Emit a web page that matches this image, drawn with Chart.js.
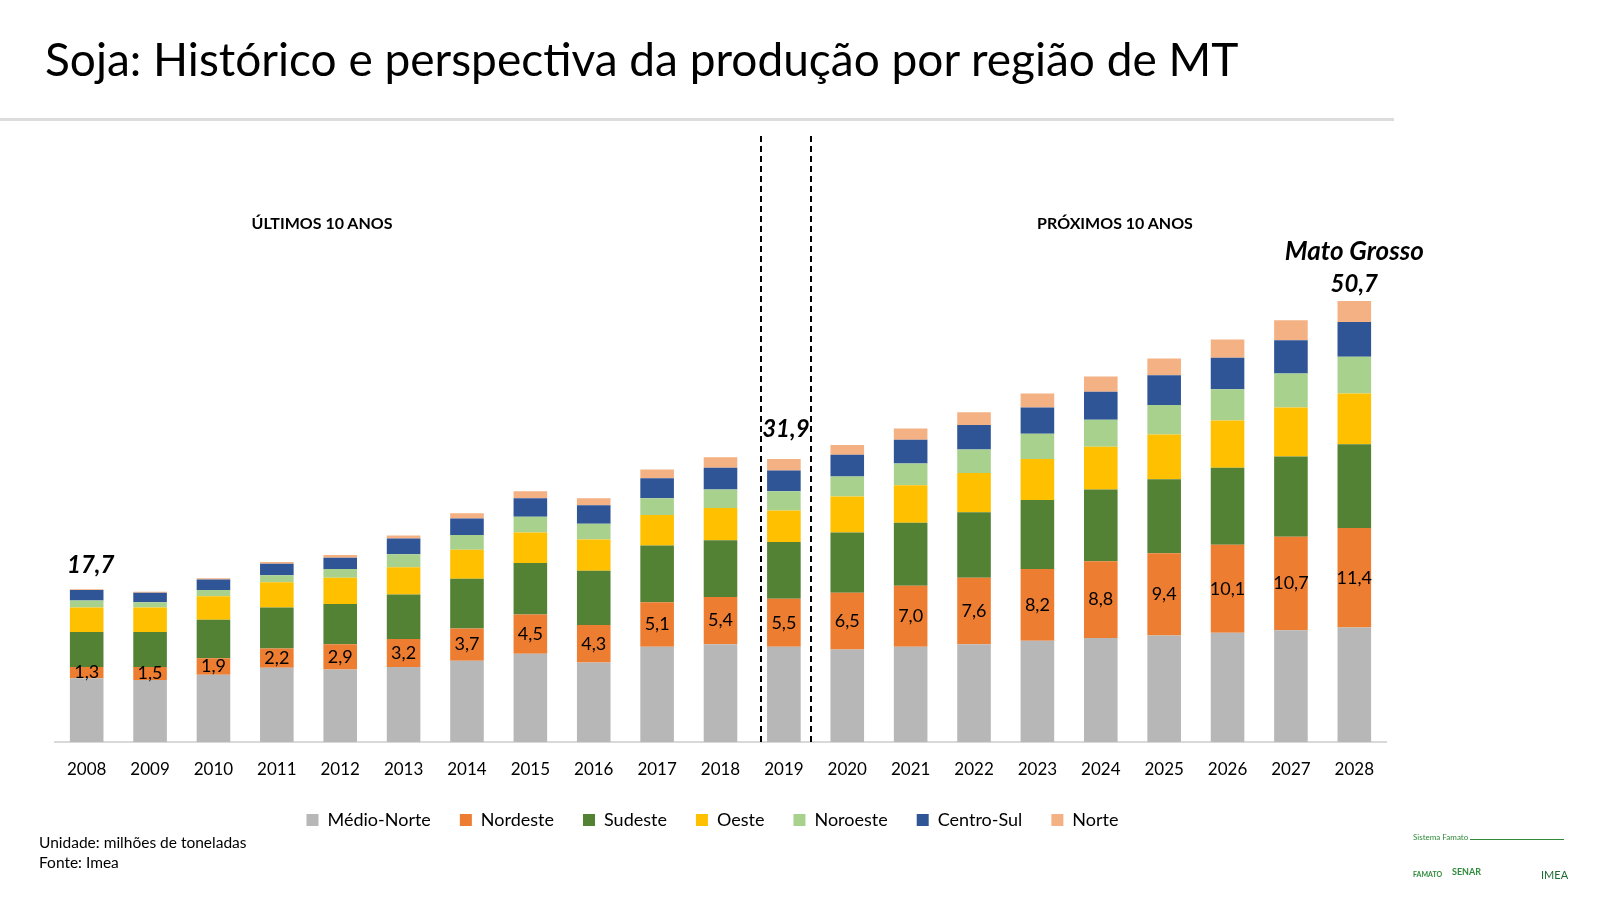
<!DOCTYPE html>
<html>
<head>
<meta charset="utf-8">
<script src="https://cdn.jsdelivr.net/npm/chart.js@4.4.1/dist/chart.umd.min.js"></script>
<style>
  html, body { margin: 0; padding: 0; background: #fff; }
  body { width: 1600px; height: 900px; position: relative; overflow: hidden; font-family: Lato, 'Open Sans', sans-serif; }
  #chart { position: absolute; left: 0; top: 0; }
  .txt { position: absolute; white-space: nowrap; color: #000; }
  #title { left: 45px; top: 31px; font-size: 46px; line-height: 56px; }
  #rule { position: absolute; left: 0; top: 118px; width: 1394px; height: 3px; background: #dcdcdc; }
  .section { font-size: 16px; font-weight: bold; transform: translate(-50%, -50%); }
  .foot { left: 39px; font-size: 15.5px; }
  .logo { position: absolute; color: #2f8a3a; font-size: 8px; }
</style>
</head>
<body>
<canvas id="chart" width="1600" height="900"></canvas>
<div id="title" class="txt">Soja: Histórico e perspectiva da produção por região de MT</div>
<div id="rule"></div>
<div class="txt section" style="left:322px; top:222px;">ÚLTIMOS 10 ANOS</div>
<div class="txt section" style="left:1115px; top:222px;">PRÓXIMOS 10 ANOS</div>
<div class="txt foot" style="top:833px;">Unidade: milhões de toneladas</div>
<div class="txt foot" style="top:853px;">Fonte: Imea</div>
<div class="logo" style="left:1413px; top:832px;">Sistema Famato</div>
<div style="position:absolute; left:1470px; top:839px; width:94px; height:1px; background:#2f8a3a;"></div>
<div class="logo" style="left:1413px; top:870px; font-weight:bold; font-size:7px;">FAMATO</div>
<div class="logo" style="left:1452px; top:866px; font-weight:bold; font-size:9px;">SENAR</div>
<div class="logo" style="left:1541px; top:868px; font-size:11px; color:#1d6b32;">IMEA</div>
<script>
const years = ['2008', '2009', '2010', '2011', '2012', '2013', '2014', '2015', '2016', '2017', '2018',
  '2019', '2020', '2021', '2022', '2023', '2024', '2025', '2026', '2027', '2028'];

const medioNorte = [7.3, 7.1, 7.7, 8.5, 8.3, 8.6, 9.3, 10.1, 9.1, 10.9, 11.2, 10.9, 10.6, 10.9, 11.2, 11.6, 11.9, 12.2, 12.5, 12.8, 13.1];
const nordeste = [1.3, 1.5, 1.9, 2.2, 2.9, 3.2, 3.7, 4.5, 4.3, 5.1, 5.4, 5.5, 6.5, 7.0, 7.6, 8.2, 8.8, 9.4, 10.1, 10.7, 11.4];
const sudeste = [4.0, 4.0, 4.4, 4.7, 4.6, 5.1, 5.7, 5.9, 6.2, 6.5, 6.5, 6.5, 6.9, 7.2, 7.5, 7.9, 8.2, 8.5, 8.8, 9.2, 9.6];
const oeste = [2.8, 2.8, 2.7, 2.9, 3.0, 3.1, 3.3, 3.5, 3.6, 3.5, 3.7, 3.6, 4.1, 4.3, 4.5, 4.7, 4.9, 5.1, 5.4, 5.6, 5.8];
const noroeste = [0.8, 0.6, 0.7, 0.8, 1.0, 1.5, 1.7, 1.8, 1.8, 1.9, 2.1, 2.2, 2.3, 2.5, 2.7, 2.9, 3.1, 3.4, 3.6, 3.9, 4.2];
const centroSul = [1.2, 1.1, 1.2, 1.3, 1.3, 1.8, 1.9, 2.1, 2.1, 2.3, 2.5, 2.4, 2.5, 2.7, 2.8, 3.0, 3.2, 3.4, 3.6, 3.8, 4.0];
const norte = [0.1, 0.1, 0.15, 0.2, 0.3, 0.35, 0.6, 0.8, 0.8, 1.0, 1.2, 1.3, 1.1, 1.3, 1.45, 1.6, 1.75, 1.9, 2.1, 2.3, 2.4];

// totais destacados no gráfico
const totalYears = ['2008', '2019', '2028'];
const totalLabels = ['17,7', '31,9', '50,7'];

const fmt = (v) => v.toFixed(1).replace('.', ',');

const overlay = {
  id: 'overlay',
  afterDatasetsDraw(chart) {
    const { ctx, chartArea } = chart;
    const xScale = chart.scales.x;
    ctx.save();

    // rótulos do Nordeste
    ctx.font = '18px Lato';
    ctx.fillStyle = '#000';
    ctx.textAlign = 'center';
    ctx.textBaseline = 'middle';
    chart.getDatasetMeta(1).data.forEach((bar, i) => {
      ctx.fillText(fmt(nordeste[i]), bar.x, (bar.y + bar.base) / 2);
    });

    // totais (cada um com sua altura, como no slide)
    const lift = [16, 22, 9];
    const shift = [4, 2, 0];
    const topMeta = chart.getDatasetMeta(6);
    ctx.textBaseline = 'alphabetic';
    totalYears.forEach((year, k) => {
      const bar = topMeta.data[years.indexOf(year)];
      ctx.font = 'italic bold 24px Lato';
      ctx.fillText(totalLabels[k], bar.x + shift[k], bar.y - lift[k]);
      if (k === totalYears.length - 1) {
        ctx.font = 'italic bold 26px Lato';
        ctx.fillText('Mato Grosso', bar.x, bar.y - lift[k] - 32);
      }
    });

    // linhas tracejadas em volta de 2019
    const i19 = years.indexOf('2019');
    const step = xScale.getPixelForValue(1) - xScale.getPixelForValue(0);
    const cx = xScale.getPixelForValue(i19) + 2;
    ctx.strokeStyle = '#000';
    ctx.lineWidth = 2;
    ctx.setLineDash([6, 4]);
    [cx - step * 0.4, cx + step * 0.4].forEach((x) => {
      ctx.beginPath();
      ctx.moveTo(Math.round(x), 136);
      ctx.lineTo(Math.round(x), chartArea.bottom);
      ctx.stroke();
    });
    ctx.restore();
  },
};

const ctx = document.getElementById('chart').getContext('2d');

new Chart(ctx, {
  type: 'bar',
  data: {
    labels: years,
    datasets: [
      { label: 'Médio-Norte', data: medioNorte, backgroundColor: '#b7b7b7' },
      { label: 'Nordeste', data: nordeste, backgroundColor: '#ed7d31' },
      { label: 'Sudeste', data: sudeste, backgroundColor: '#548235' },
      { label: 'Oeste', data: oeste, backgroundColor: '#ffc000' },
      { label: 'Noroeste', data: noroeste, backgroundColor: '#a9d18e' },
      { label: 'Centro-Sul', data: centroSul, backgroundColor: '#2f5597' },
      { label: 'Norte', data: norte, backgroundColor: '#f4b183' },
    ],
  },
  options: {
    responsive: false,
    animation: false,
    layout: {
      padding: { left: 39, right: 214, top: 218, bottom: 61 },
    },
    datasets: {
      bar: { categoryPercentage: 1, barPercentage: 0.53 },
    },
    scales: {
      x: {
        stacked: true,
        grid: { display: false, drawTicks: false },
        border: { display: true, color: '#d9d9d9', width: 2 },
        ticks: {
          color: '#000',
          padding: 17,
          font: { family: 'Lato', size: 17 },
        },
        afterFit(scale) {
          scale.height = 40;
        },
      },
      y: {
        stacked: true,
        display: true,
        min: 0,
        max: 60,
        grid: { display: false, drawTicks: false },
        border: { display: false },
        ticks: { display: false },
        afterFit(scale) {
          scale.width = 16;
        },
      },
    },
    plugins: {
      tooltip: { enabled: false },
      legend: {
        position: 'bottom',
        labels: {
          color: '#000',
          boxWidth: 12,
          boxHeight: 12,
          padding: 29,
          font: { family: 'Lato', size: 18 },
        },
      },
    },
  },
  plugins: [overlay],
});
</script>
</body>
</html>
